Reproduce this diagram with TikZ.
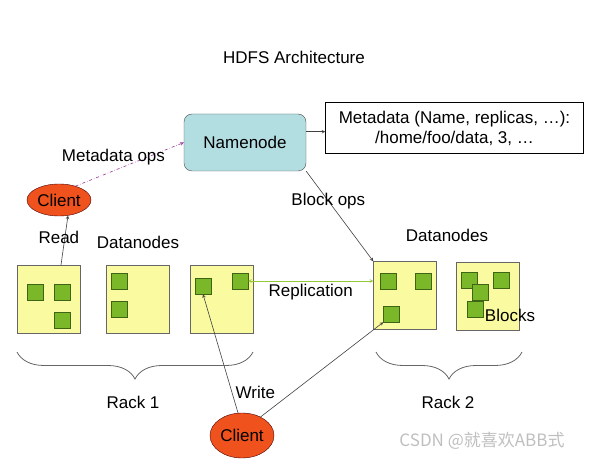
\documentclass[tikz,border=0pt]{standalone}
\usepackage{fontspec}
\setmainfont{Liberation Sans}
\newfontfamily\cjk{Noto Sans CJK SC}
\usepackage{tikz}
\usetikzlibrary{shapes.geometric,decorations.pathreplacing}
\definecolor{rackYellow}{RGB}{250,250,160}
\definecolor{blockGreen}{RGB}{122,184,42}
\definecolor{blockEdge}{RGB}{62,100,22}
\definecolor{nameBlue}{RGB}{178,222,226}
\definecolor{clientRed}{RGB}{240,82,30}
\definecolor{opsPurple}{RGB}{150,50,150}
\definecolor{replGreen}{RGB}{150,200,60}
\definecolor{lineGray}{RGB}{64,64,64}
\tikzstyle{dataNode}=[draw=gray!80!black,fill=rackYellow,minimum width=63pt,minimum height=68pt,inner sep=0pt]
\tikzstyle{blockNode}=[draw=blockEdge,fill=blockGreen,minimum size=16pt,inner sep=0pt]
\tikzstyle{clientNode}=[draw=black!70!red,fill=clientRed,ellipse,minimum width=64pt,inner sep=0pt]
\tikzstyle{opsArrow}=[-stealth, lineGray, semithick]
\tikzstyle{rackBrace}=[decorate, decoration={brace,mirror,amplitude=27pt}, gray!80!black, thick]

\begin{document}
\begin{tikzpicture}[x=1pt, y=-1pt, font=\fontsize{17}{20}\selectfont]
	\useasboundingbox (0,0) rectangle (589,462);
	
	\node (t0) at (294, 57) {HDFS Architecture};
	
	\node[draw=gray!60!black, fill=nameBlue, rounded corners=8pt, minimum width=122pt, minimum height=57pt] (nn) at (245, 142.5) {Namenode};
	\node[draw, align=center, minimum width=258pt, minimum height=51pt, inner sep=0pt] (md) at (454.5, 128) {Metadata (Name, replicas, \dots):\\/home/foo/data, 3, \dots};
	
	\node[clientNode, minimum height=32pt] (c1) at (59, 200) {Client};
	\node[clientNode, minimum height=45pt] (c2) at (242, 435.5) {Client};
	
	\node[dataNode] (r1) at (48.5, 299.5) {};
	\node[dataNode] (r2) at (138, 299.5) {};
	\node[dataNode] (r3) at (221.5, 299.5) {};
	\node[dataNode] (s1) at (405, 295.5) {};
	\node[dataNode] (s2) at (487.5, 296) {};
	
	\node[blockNode] (b1) at (35, 292.5) {};
	\node[blockNode] (b2) at (62, 292.5) {};
	\node[blockNode] (b3) at (62, 320.5) {};
	\node[blockNode] (b4) at (119, 281) {};
	\node[blockNode] (b5) at (119, 309.5) {};
	\node[blockNode] (b6) at (203, 286) {};
	\node[blockNode] (b7) at (240, 281) {};
	\node[blockNode] (b8) at (388, 281) {};
	\node[blockNode] (b9) at (423, 281) {};
	\node[blockNode] (b10) at (391.5, 314) {};
	\node[blockNode] (b11) at (469.5, 280) {};
	\node[blockNode] (b12) at (480, 292.5) {};
	\node[blockNode] (b13) at (475, 309) {};
	\node[blockNode] (b14) at (501, 280) {};
	
	\node (l1) at (138, 242) {Datanodes};
	\node (l2) at (447, 235) {Datanodes};
	\node (l3) at (510, 315) {Blocks};
	
	\draw[opsArrow] (nn.10) -- (md.west |- nn.10);
	\draw[-stealth, opsPurple, dash dot, semithick] (c1.40) -- node[pos=0.35, above, yshift=2pt, text=black] {Metadata ops} (nn.west);
	\draw[opsArrow] (r1.70) -- node[pos=0.56, xshift=-6pt, text=black] {Read} (c1.-60);
	\draw[opsArrow] (nn.south east) -- node[pos=0.33, text=black] {Block ops} (s1.north west);
	\draw[stealth-stealth, replGreen, semithick] (b7.east) -- node[below, text=black] {Replication} (s1.west |- b7.east);
	\draw[opsArrow] (c2.100) -- node[pos=0.17, right, text=black] {Write} (b6.south);
	\draw[opsArrow] (c2.45) -- (b10.south west);
	
	\draw[rackBrace] (17, 352) -- (253, 352);
	\draw[rackBrace] (376, 352) -- (522, 352);
	\node (k1) at (133, 402) {Rack 1};
	\node (k2) at (448, 402) {Rack 2};
	
	\node[text=black!25] (w1) at (482, 441) {\cjk CSDN @就喜欢ABB式};
\end{tikzpicture}
\end{document}
